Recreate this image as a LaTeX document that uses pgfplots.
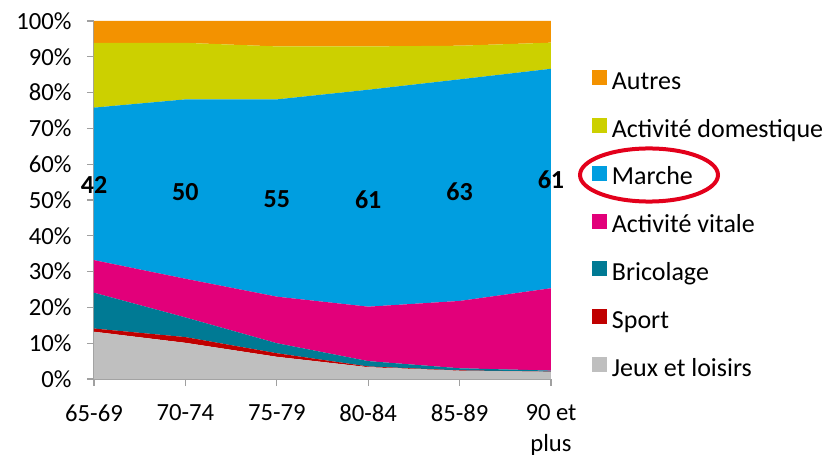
\documentclass[border=0pt]{standalone}
\usepackage{pgfplots}
\pgfplotsset{compat=1.18}
\usepackage{fontspec}
\setmainfont{Carlito}
\definecolor{cAutres}{RGB}{243,146,0}
\definecolor{cDom}{RGB}{204,208,0}
\definecolor{cMarche}{RGB}{0,158,224}
\definecolor{cVitale}{RGB}{226,0,122}
\definecolor{cBrico}{RGB}{0,122,148}
\definecolor{cSport}{RGB}{192,0,0}
\definecolor{cJeux}{RGB}{191,191,191}
\definecolor{axisgray}{RGB}{160,160,160}
\definecolor{ellred}{RGB}{227,0,27}
\newcommand{\ls}{\rule[-4pt]{0pt}{18pt}}
\begin{document}
\begin{tikzpicture}
\useasboundingbox (-70.5pt,-58.5pt) rectangle (553.5pt,284.25pt);
\begin{axis}[
  scale only axis, width=342.75pt, height=268.5pt,
  xmin=0, xmax=5, ymin=0, ymax=100,
  stack plots=y, clip=false,
  axis x line*=bottom, axis y line*=left,
  axis line style={axisgray, line width=0.8pt, -},
  tick style={axisgray, line width=0.8pt},
  tick align=outside, major tick length=5.25pt,
  xtick={0,1,2,3,4,5},
  xticklabels={65-69,70-74,75-79,80-84,85-89,{90 et\\plus}},
  xticklabel style={align=center, font=\fontsize{18.5}{23.25}\selectfont, anchor=north, yshift=-10.5pt},
  ytick={0,10,20,30,40,50,60,70,80,90,100},
  yticklabel={\pgfmathprintnumber{\tick}\%},
  yticklabel style={font=\fontsize{18.5}{22}\selectfont, anchor=east, xshift=-8pt},
  /pgf/number format/assume math mode=true,
  legend image code/.code={\fill[#1] (0pt,-3.15pt) rectangle (11.25pt,8.1pt);},
  reverse legend,
  legend style={at={(1.0897,0.870)}, anchor=north west, draw=none, fill=none, inner sep=0pt,
    row sep=16.4pt, column sep=1.5pt,
    font=\fontsize{19.5}{22}\selectfont},
  legend cell align=left,
]
\addplot[fill=cJeux, draw=none] coordinates {(0,13.2) (1,10.1) (2,6.2) (3,3.3) (4,2.3) (5,2.0)} \closedcycle;
\addlegendentry{\ls Jeux et loisirs}
\addplot[fill=cSport, draw=none] coordinates {(0,0.9) (1,1.6) (2,1.0) (3,0.2) (4,0.1) (5,0.05)} \closedcycle;
\addlegendentry{\ls Sport}
\addplot[fill=cBrico, draw=none] coordinates {(0,10.0) (1,5.5) (2,2.8) (3,1.5) (4,0.6) (5,0.3)} \closedcycle;
\addlegendentry{\ls Bricolage}
\addplot[fill=cVitale, draw=none] coordinates {(0,9.1) (1,10.8) (2,13.0) (3,15.2) (4,18.8) (5,23.0)} \closedcycle;
\addlegendentry{\ls Activité vitale}
\addplot[fill=cMarche, draw=none] coordinates {(0,42.6) (1,50.1) (2,55.1) (3,60.6) (4,61.9) (5,61.3)} \closedcycle;
\addlegendentry{\ls Marche}
\addplot[fill=cDom, draw=none] coordinates {(0,18.1) (1,15.8) (2,14.8) (3,12.1) (4,9.4) (5,7.3)} \closedcycle;
\addlegendentry{\ls Activité domestique}
\addplot[fill=cAutres, draw=none] coordinates {(0,6.1) (1,6.1) (2,7.1) (3,7.1) (4,6.9) (5,6.05)} \closedcycle;
\addlegendentry{\ls Autres}
\draw[axisgray!70, line width=0.6pt] (axis cs:0,100) -- (axis cs:5,100);
\coordinate (m0) at (axis cs:0,54.3);
\coordinate (m1) at (axis cs:1,52.3);
\coordinate (m2) at (axis cs:2,50.2);
\coordinate (m3) at (axis cs:3,50.2);
\coordinate (m4) at (axis cs:4,52.3);
\coordinate (m5) at (axis cs:5,55.6);
\end{axis}
\begin{scope}[every node/.style={font=\fontsize{19.5}{22}\selectfont\bfseries}]
\node at (m0) {42};
\node at (m1) {50};
\node at (m2) {55};
\node at (m3) {61};
\node at (m4) {63};
\node at (m5) {61};
\end{scope}
\draw[ellred, line width=3pt] (416.25pt,153pt) ellipse [x radius=51.75pt, y radius=19.9pt];
\end{tikzpicture}
\end{document}
